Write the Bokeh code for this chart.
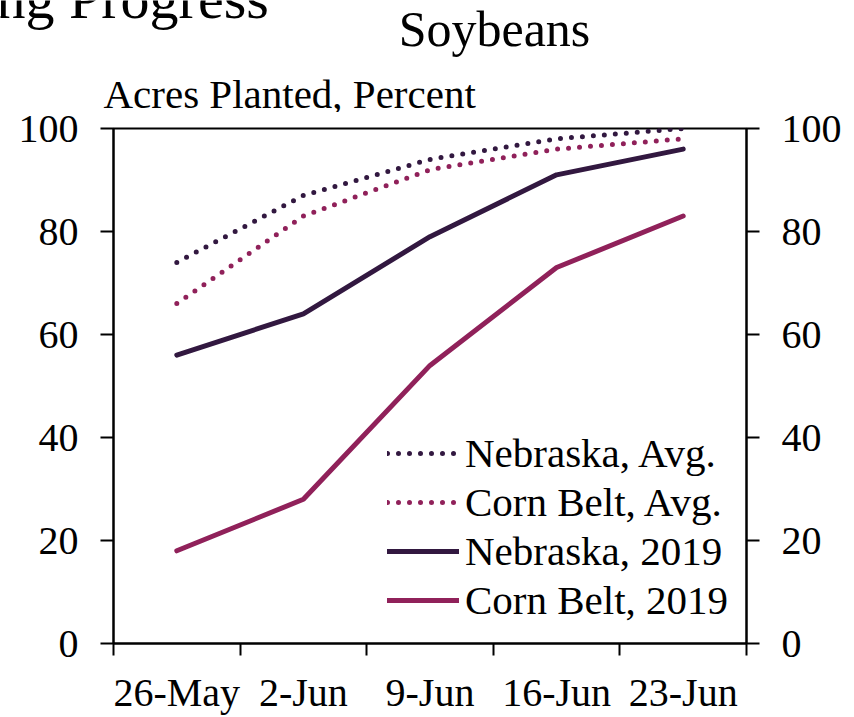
from bokeh.plotting import figure
from bokeh.models import FixedTicker, Range1d, Legend, LegendItem, LinearAxis
from bokeh.core.properties import value
from bokeh.embed import file_html
from bokeh.resources import INLINE

weeks = ["26-May", "2-Jun", "9-Jun", "16-Jun", "23-Jun"]
nebraska_avg = [74, 87, 94, 98, 100]
cornbelt_avg = [66, 83, 92, 96, 98]
nebraska_2019 = [56, 64, 79, 91, 96]
cornbelt_2019 = [18, 28, 54, 73, 83]
y_ticks = [0, 20, 40, 60, 80, 100]

title_text = "Soybeans"
y_title_text = "Acres Planted, Percent"
slide_title_text = "ng Progress"

DARK = "#321840"
MAG = "#90215a"
FONT = "Liberation Serif"

W = 854
HEAD_H = 112

# ---------- header (titles), its frame covers the whole canvas ----------
head = figure(width=W, height=HEAD_H, output_backend="svg", toolbar_location=None,
              x_range=Range1d(0, W), y_range=Range1d(HEAD_H, 0),
              x_axis_location=None, y_axis_location=None,
              min_border=0, min_border_left=0, min_border_right=0,
              min_border_top=0, min_border_bottom=0)
head.xgrid.visible = False
head.ygrid.visible = False
head.outline_line_color = None
head.background_fill_color = "white"
head.border_fill_color = "white"

head.text(x=[-4], y=[-2], text=[slide_title_text], text_font=value(FONT),
          text_font_size="58px", text_align="left", text_baseline="alphabetic", text_color="black")
head.text(x=[494], y=[28], text=[title_text], text_font=value(FONT),
          text_font_size="50px", text_align="center", text_baseline="alphabetic", text_color="black")
head.text(x=[103], y=[93], text=[y_title_text], text_font=value(FONT),
          text_font_size="41px", text_align="left", text_baseline="alphabetic", text_color="black")

# ---------- main chart ----------
xs = [i + 0.5 for i in range(len(weeks))]

p = figure(width=W, height=717 - HEAD_H, output_backend="svg", toolbar_location=None,
           x_range=Range1d(0, len(weeks)), y_range=Range1d(0, 100),
           min_border_left=113, min_border_right=108, min_border_top=128 - HEAD_H,
           min_border_bottom=72)
p.xgrid.visible = False
p.ygrid.visible = False
p.outline_line_color = "black"
p.outline_line_width = 2
p.background_fill_color = "white"
p.border_fill_color = "white"

r1 = p.line(xs, nebraska_avg, line_color=DARK, line_width=5, line_dash="0 11", line_cap="round")
r2 = p.line(xs, cornbelt_avg, line_color=MAG, line_width=5, line_dash="0 11", line_cap="round")
r3 = p.line(xs, nebraska_2019, line_color=DARK, line_width=5, line_cap="round")
r4 = p.line(xs, cornbelt_2019, line_color=MAG, line_width=5, line_cap="round")

# x axis: labels at week centres, tick marks at week boundaries (minor ticks)
xa = p.xaxis[0]
xa.ticker = FixedTicker(ticks=xs, minor_ticks=list(range(len(weeks) + 1)))
xa.major_label_overrides = {x: w for x, w in zip(xs, weeks)}
xa.major_tick_out = 0
xa.major_tick_in = 0
xa.minor_tick_out = 12
xa.minor_tick_in = 0
xa.minor_tick_line_color = "black"
xa.minor_tick_line_width = 2
xa.axis_line_width = 2
xa.major_label_text_font = FONT
xa.major_label_text_font_size = "40px"
xa.major_label_text_color = "black"
xa.major_label_standoff = 14

ya = p.yaxis[0]
ya.ticker = FixedTicker(ticks=y_ticks, minor_ticks=[])
ya.major_tick_out = 13
ya.major_tick_in = 0
ya.major_tick_line_width = 2
ya.axis_line_width = 2
ya.major_label_text_font = FONT
ya.major_label_text_font_size = "40px"
ya.major_label_text_color = "black"
ya.major_label_standoff = 22

ra = LinearAxis(ticker=FixedTicker(ticks=y_ticks, minor_ticks=[]))
ra.major_tick_out = 13
ra.major_tick_in = 0
ra.major_tick_line_width = 2
ra.axis_line_width = 2
ra.major_label_text_font = FONT
ra.major_label_text_font_size = "40px"
ra.major_label_text_color = "black"
ra.major_label_standoff = 22
p.add_layout(ra, "right")

legend = Legend(items=[
    LegendItem(label="Nebraska, Avg.", renderers=[r1]),
    LegendItem(label="Corn Belt, Avg.", renderers=[r2]),
    LegendItem(label="Nebraska, 2019", renderers=[r3]),
    LegendItem(label="Corn Belt, 2019", renderers=[r4]),
], location=(274, 19))
legend.background_fill_alpha = 0
legend.border_line_alpha = 0
legend.label_text_font = FONT
legend.label_text_font_size = "41px"
legend.label_text_color = "black"
legend.glyph_width = 72
legend.glyph_height = 40
legend.label_height = 40
legend.spacing = 1
legend.label_standoff = 6
legend.padding = 0
legend.margin = 0
p.add_layout(legend)

# two separate roots, stacked on the page (no frame alignment between them)
open("out.html", "w").write(file_html([head, p], INLINE))
